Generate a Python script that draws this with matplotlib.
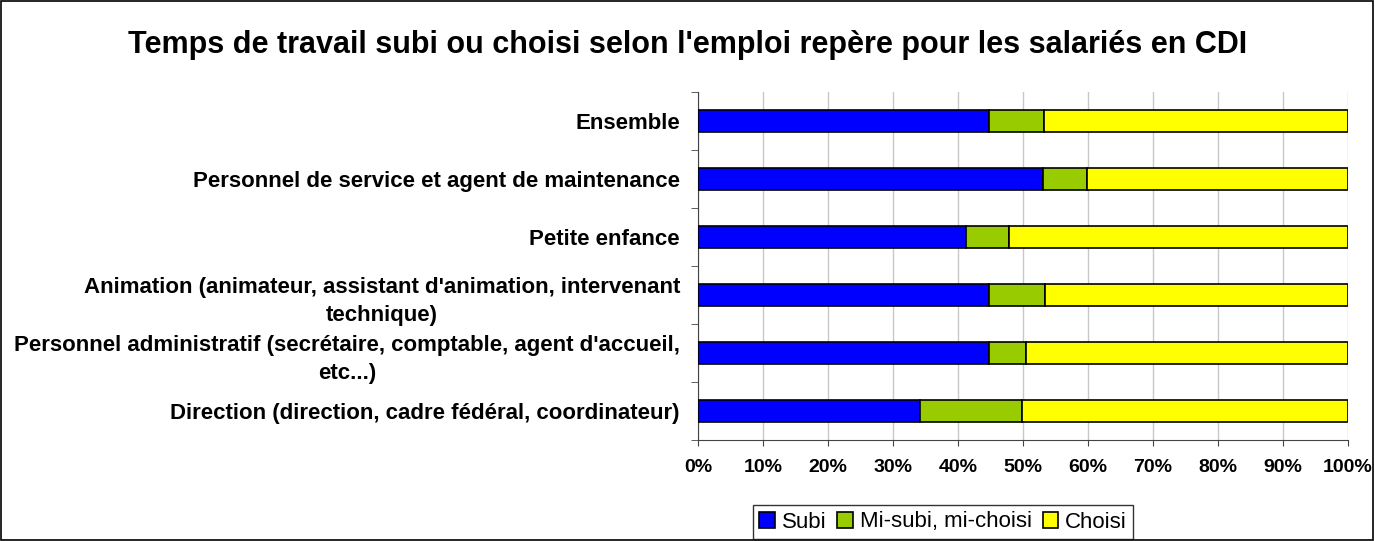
import numpy as np
import matplotlib
matplotlib.use('Agg')
import matplotlib.pyplot as plt
from matplotlib.patches import Rectangle

plt.rcParams['font.family'] = ['Liberation Sans', 'DejaVu Sans']

categories = ['Ensemble',
              'Personnel de service et agent de maintenance',
              'Petite enfance',
              "Animation (animateur, assistant d'animation, intervenant\ntechnique)",
              "Personnel administratif (secrétaire, comptable, agent d'accueil,\netc...)",
              'Direction (direction, cadre fédéral, coordinateur)']
subi = [44.8, 53.0, 41.3, 44.8, 44.8, 34.2]
mi = [8.4, 6.9, 6.5, 8.6, 5.6, 15.7]
choisi = [100 - a - b for a, b in zip(subi, mi)]
series = ['Subi', 'Mi-subi, mi-choisi', 'Choisi']
colors = ['#0000FF', '#99CC00', '#FFFF00']

fig = plt.figure(figsize=(13.75, 5.41), dpi=100)
ax = fig.add_axes([698/1375, 1-440/541, 650/1375, 348/541])

y = np.arange(len(categories))
left = np.zeros(len(categories))
for vals, name, c in zip([subi, mi, choisi], series, colors):
    ax.barh(y, vals, left=left, height=0.39, color=c, edgecolor='black', linewidth=1.2, label=name, zorder=3)
    left = left + np.array(vals)

ax.set_ylim(len(categories) - 0.5, -0.5)
ax.set_xlim(0, 100)
ax.set_xticks(np.arange(0, 101, 10))
ax.set_xticklabels([f'{v}%' for v in range(0, 101, 10)], fontweight='bold', fontsize=14)
ax.set_yticks(y)
ax.set_yticklabels(categories, fontweight='bold', fontsize=16, multialignment='center', linespacing=1.5)
ax.tick_params(axis='y', which='major', length=0, pad=13)
ax.set_yticks(np.arange(-0.5, len(categories) + 0.5, 1), minor=True)
ax.tick_params(axis='y', which='minor', length=5, color='#444444')
ax.tick_params(axis='x', length=4, color='#444444', pad=10)
ax.grid(axis='x', color='#c8c8c8', linewidth=1, zorder=0)
for s in ['top', 'right']:
    ax.spines[s].set_visible(False)
ax.spines['left'].set_color('#444444')
ax.spines['bottom'].set_color('#444444')

fig.suptitle("Temps de travail subi ou choisi selon l'emploi repère pour les salariés en CDI",
             fontweight='bold', fontsize=22, x=0.5, y=1-45/541, va='center')

fig.legend(loc='center', bbox_to_anchor=(943/1375, 1-522/541), ncol=3, fontsize=16,
           frameon=True, fancybox=False, edgecolor='black', handlelength=0.7, handleheight=0.7,
           handletextpad=0.3, columnspacing=0.5, borderpad=0.3)

fig.patches.append(Rectangle((0.0007, 0.001), 0.998, 0.997, transform=fig.transFigure,
                             fill=False, edgecolor='black', linewidth=1.2))

fig.savefig('out.png', dpi=100)
